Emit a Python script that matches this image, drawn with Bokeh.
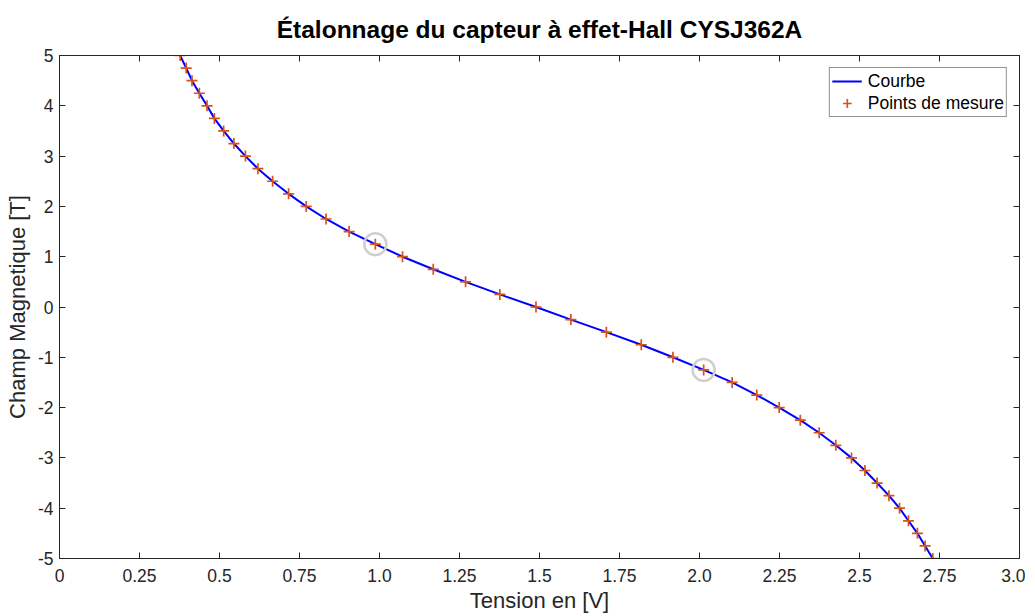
from bokeh.plotting import figure
from bokeh.models import LinearAxis, Range1d, FixedTicker, Legend, LegendItem, Title
from bokeh.embed import file_html
from bokeh.resources import INLINE

# Data
champ = [5, 4.75, 4.5, 4.25, 4, 3.75, 3.5, 3.25, 3, 2.75, 2.5, 2.25, 2, 1.75, 1.5, 1.25, 1,
         0.75, 0.5, 0.25, 0, -0.25, -0.5, -0.75, -1, -1.25, -1.5, -1.75, -2, -2.25, -2.5,
         -2.75, -3, -3.25, -3.5, -3.75, -4, -4.25, -4.5, -4.75, -5]
tension = [0.377, 0.396, 0.414, 0.437, 0.461, 0.484, 0.513, 0.545, 0.581, 0.620, 0.666,
           0.716, 0.771, 0.833, 0.905, 0.987, 1.072, 1.168, 1.269, 1.376, 1.489, 1.598,
           1.709, 1.818, 1.917, 2.013, 2.102, 2.179, 2.249, 2.315, 2.374, 2.426, 2.475,
           2.517, 2.555, 2.592, 2.625, 2.653, 2.681, 2.705, 2.729]
highlight_t = [0.987, 2.013]
highlight_b = [1.25, -1.25]
x_ticks = [0, 0.25, 0.5, 0.75, 1.0, 1.25, 1.5, 1.75, 2.0, 2.25, 2.5, 2.75, 3.0]
x_labels = ["0", "0.25", "0.5", "0.75", "1.0", "1.25", "1.5", "1.75", "2.0", "2.25", "2.5", "2.75", "3.0"]
y_ticks = [5, 4, 3, 2, 1, 0, -1, -2, -3, -4, -5]
y_labels = ["5", "4", "3", "2", "1", "0", "-1", "-2", "-3", "-4", "-5"]
title_text = "Étalonnage du capteur à effet-Hall CYSJ362A"

FONT = "Liberation Sans"
AX = "#262626"

p = figure(width=1025, height=616, output_backend="svg", toolbar_location=None,
           x_range=Range1d(0, 3), y_range=Range1d(-5, 5),
           min_border_left=59, min_border_right=6, min_border_top=55, min_border_bottom=58)
p.xgrid.visible = False
p.ygrid.visible = False
p.outline_line_color = AX
p.outline_line_width = 1

def style(ax):
    ax.axis_line_color = AX
    ax.major_tick_line_color = AX
    ax.major_tick_in = 6
    ax.major_tick_out = 0
    ax.minor_tick_line_color = None
    ax.major_label_text_font = FONT
    ax.major_label_text_font_size = "17.5px"
    ax.major_label_text_color = AX
    ax.axis_label_text_font = FONT
    ax.axis_label_text_font_size = "22px"
    ax.axis_label_text_font_style = "normal"
    ax.axis_label_text_color = AX

xa = p.xaxis[0]
xa.ticker = FixedTicker(ticks=x_ticks)
xa.major_label_overrides = {t: l for t, l in zip(x_ticks, x_labels)}
xa.axis_label = "Tension en [V]"
style(xa)
xa.major_label_standoff = 10
xa.axis_label_standoff = 3
ya = p.yaxis[0]
ya.ticker = FixedTicker(ticks=y_ticks)
ya.major_label_overrides = {t: l for t, l in zip(y_ticks, y_labels)}
ya.axis_label = "Champ Magnetique [T]"
style(ya)
ya.major_label_standoff = 6
ya.axis_label_standoff = 5

top = LinearAxis(ticker=FixedTicker(ticks=x_ticks))
style(top)
top.major_label_overrides = {t: "" for t in x_ticks}
top.major_label_standoff = 0
p.add_layout(top, "above")
right = LinearAxis(ticker=FixedTicker(ticks=y_ticks))
style(right)
right.major_label_overrides = {t: "" for t in y_ticks}
right.major_label_standoff = 0
p.add_layout(right, "right")

title = Title(text=title_text, align="center", text_font=FONT, text_font_size="24.5px",
              text_font_style="bold", text_color="#000000", standoff=25)
p.add_layout(title, "above")

l1 = p.line(tension, champ, line_color="#0000FF", line_width=2)
s1 = p.scatter(tension, champ, marker="cross", size=11, line_color="#D95319", line_width=1.7)
p.scatter(highlight_t, highlight_b, marker="circle", size=22, fill_color=None,
          line_color="#CFCFCF", line_width=2.5)

legend = Legend(items=[LegendItem(label="Courbe", renderers=[l1]),
                       LegendItem(label="Points de mesure", renderers=[s1])],
                location="top_right")
legend.margin = 12
legend.padding = 2
legend.spacing = 0
legend.label_text_font = FONT
legend.label_text_font_size = "17.5px"
legend.label_text_color = "#000000"
legend.label_height = 22
legend.glyph_height = 22
legend.glyph_width = 30
legend.label_standoff = 6
legend.border_line_color = AX
legend.border_line_width = 1
legend.background_fill_color = "white"
p.add_layout(legend, "center")

open("out.html", "w").write(file_html(p, INLINE))
